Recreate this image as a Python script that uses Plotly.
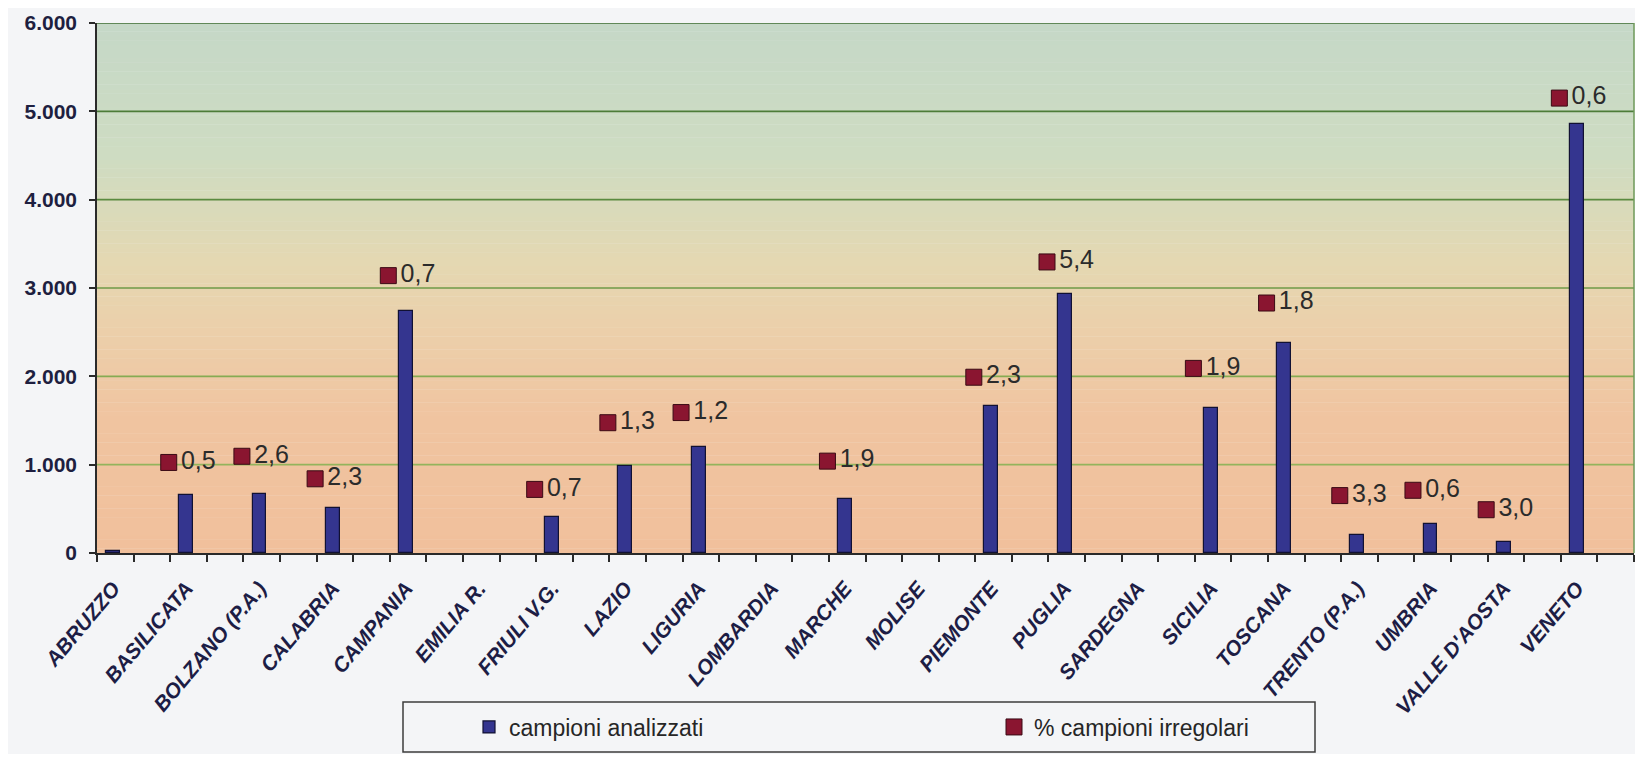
import plotly.graph_objects as go

# ---------------- data ----------------
regions = ["ABRUZZO", "BASILICATA", "BOLZANO (P.A.)", "CALABRIA", "CAMPANIA",
           "EMILIA R.", "FRIULI V.G.", "LAZIO", "LIGURIA", "LOMBARDIA",
           "MARCHE", "MOLISE", "PIEMONTE", "PUGLIA", "SARDEGNA", "SICILIA",
           "TOSCANA", "TRENTO (P.A.)", "UMBRIA", "VALLE D'AOSTA", "VENETO"]

campioni_analizzati = [25, 658, 665, 508, 2745, None, 412, 990, 1200, None,
                       610, None, 1665, 2930, None, 1640, 2375, 205, 333, 125, 4855]

pct_irregolari = [None, 0.5, 2.6, 2.3, 0.7, None, 0.7, 1.3, 1.2, None,
                  1.9, None, 2.3, 5.4, None, 1.9, 1.8, 3.3, 0.6, 3.0, 0.6]

# height at which each % marker is drawn
marker_height = [None, 1025, 1095, 840, 3140, None, 720, 1475, 1590, None,
                 1040, None, 1990, 3295, None, 2090, 2830, 650, 710, 490, 5150]

y_tick_values = [0, 1000, 2000, 3000, 4000, 5000, 6000]
y_tick_labels = ["0", "1.000", "2.000", "3.000", "4.000", "5.000", "6.000"]

# ---------------- layout constants ----------------
OFF = 8                      # default page margin of the html body
W, H = 1643 - 2 * OFF, 762 - 2 * OFF
PL, PR, PT, PB = 97, 1634, 23, 553   # plot area in page pixels
ML = PL - OFF
MT = PT - OFF
MR = W - (PR - OFF)
MB = H - (PB - OFF)
plot_w = PR - PL
plot_h = PB - PT

BAR_SHIFT = -0.28
MARK_SHIFT = -0.52

idx = list(range(len(regions)))
bar_x = [i + BAR_SHIFT for i in idx]
mk_x = [i + MARK_SHIFT for i, v in zip(idx, pct_irregolari) if v is not None]
mk_y = [h for h, v in zip(marker_height, pct_irregolari) if v is not None]
mk_t = [f"{v:.1f}".replace(".", ",") for v in pct_irregolari if v is not None]


def px_x(p):
    return (p - PL) / plot_w


def px_y(p):
    return (PB - p) / plot_h


fig = go.Figure()

fig.add_trace(go.Bar(
    x=bar_x, y=campioni_analizzati, width=0.19,
    name="campioni analizzati",
    marker=dict(color="#34358f", line=dict(color="#111133", width=1.2)),
))

fig.add_trace(go.Scatter(
    x=mk_x, y=mk_y, mode="markers", name="% campioni irregolari",
    marker=dict(symbol="square", size=16, color="#8a1530",
                line=dict(color="#3a0a14", width=1)),
))

fig.add_trace(go.Scatter(
    x=mk_x, y=mk_y, mode="markers+text", text=mk_t,
    textposition="middle right", showlegend=False, hoverinfo="skip",
    marker=dict(symbol="square", size=18, color="rgba(0,0,0,0)"),
    textfont=dict(family="Liberation Sans", size=25, color="#2b2b2b"),
))

# ---------------- background gradient ----------------
stops = [(0, (241, 192, 156)), (1500, (240, 196, 160)), (2500, (236, 207, 170)),
         (3300, (228, 216, 178)), (4500, (206, 220, 194)), (6000, (197, 216, 199))]


def col_at(v):
    for (a, ca), (b, cb) in zip(stops[:-1], stops[1:]):
        if a <= v <= b:
            t = (v - a) / (b - a)
            return "rgb(%d,%d,%d)" % tuple(round(ca[k] + (cb[k] - ca[k]) * t) for k in range(3))
    return "rgb(%d,%d,%d)" % stops[-1][1]


shapes = []
N = 120
for k in range(N):
    y0 = 6000 * k / N
    y1 = 6000 * (k + 1) / N
    shapes.append(dict(type="rect", xref="paper", yref="y", x0=0, x1=1,
                       y0=y0, y1=y1 + 5, layer="below", line=dict(width=0),
                       fillcolor=col_at((y0 + y1) / 2)))

# gridlines, darker green towards the top
grid_cols = {1000: "#93b45c", 2000: "#86ab52", 3000: "#6f9a48",
             4000: "#5b8a40", 5000: "#4c7c39", 6000: "#3e6e33"}
for gv, gc in grid_cols.items():
    shapes.append(dict(type="line", xref="paper", yref="y", x0=0, x1=1, y0=gv, y1=gv,
                       layer="below", line=dict(color=gc, width=1.6)))

# right border of plot area
shapes.append(dict(type="line", xref="paper", yref="paper", x0=1, x1=1, y0=0, y1=1,
                   line=dict(color="#6f9a5a", width=1.5)))

# legend frame
shapes.append(dict(type="rect", xref="paper", yref="paper",
                   x0=px_x(403), x1=px_x(1315), y0=px_y(702), y1=px_y(752),
                   line=dict(color="#3c3c3c", width=1.5), fillcolor="rgba(0,0,0,0)"))

fig.update_layout(
    width=W, height=H, autosize=False,
    margin=dict(l=ML, r=MR, t=MT, b=MB, pad=0),
    paper_bgcolor="#f4f5f7", plot_bgcolor="rgba(0,0,0,0)",
    shapes=shapes,
    bargap=0, showlegend=True,
    legend=dict(orientation="h", x=px_x(469), xanchor="left",
                y=px_y(727), yanchor="middle",
                entrywidth=480, entrywidthmode="pixels",
                bgcolor="rgba(0,0,0,0)", borderwidth=0,
                font=dict(family="Liberation Sans", size=23, color="#262626")),
)

fig.update_xaxes(
    range=[-0.5, len(regions) - 0.5],
    tickmode="array", tickvals=bar_x, ticktext=regions, tickangle=-50,
    ticks="", ticklabelstandoff=13,
    tickfont=dict(family="Liberation Sans", size=21, color="#1d1d45",
                  weight="bold", style="italic"),
    minor=dict(tickmode="linear", tick0=-0.5, dtick=0.5, ticks="outside",
               ticklen=7, tickcolor="#2a2a2a", tickwidth=1.5, showgrid=False),
    showline=True, linecolor="#2a2a2a", linewidth=1.5,
    showgrid=False, zeroline=False, fixedrange=True,
)

fig.update_yaxes(
    range=[0, 6000], tickmode="array", tickvals=y_tick_values, ticktext=y_tick_labels,
    ticks="outside", ticklen=6, tickcolor="#2a2a2a", tickwidth=1.5, ticklabelstandoff=8,
    tickfont=dict(family="Liberation Sans", size=21, color="#1e1f40", weight="bold"),
    showline=True, linecolor="#2a2a2a", linewidth=1.5,
    showgrid=False, zeroline=False,
)

fig.write_html("out.html")
